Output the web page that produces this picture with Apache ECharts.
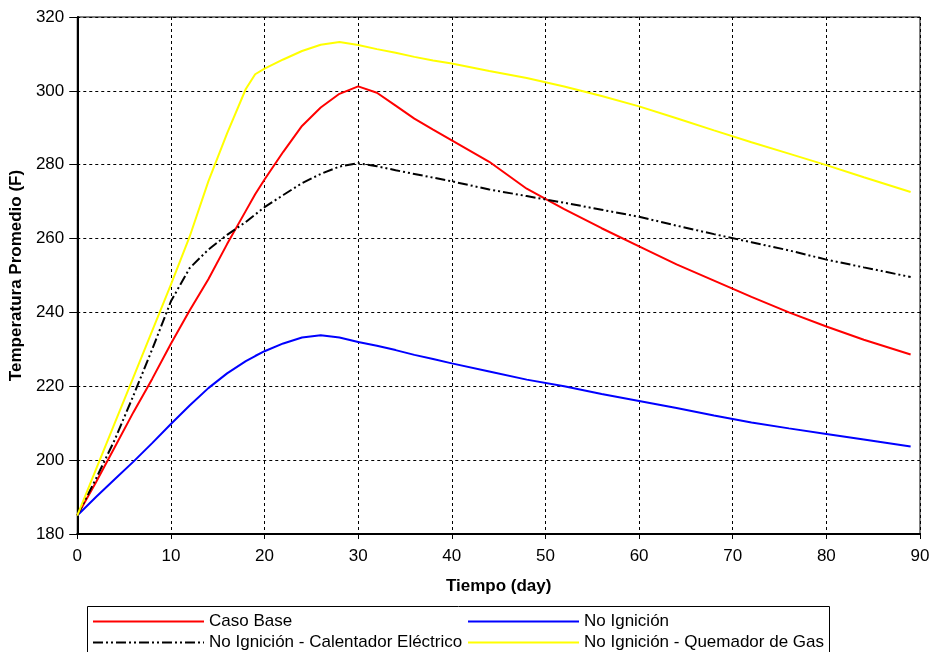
<!DOCTYPE html>
<html>
<head>
<meta charset="utf-8">
<script src="https://cdn.jsdelivr.net/npm/echarts@6/dist/echarts.min.js"></script>
<style>
  html, body { margin: 0; padding: 0; background: #fff; }
  #chart { width: 933px; height: 652px; }
</style>
</head>
<body>
<div id="chart"></div>
<script>
// Time in days
const days = [0, 2, 4, 6, 8, 10, 12, 14, 16, 18, 19, 20, 22, 24, 26, 28, 30, 32, 34, 36, 38, 40, 44, 48, 52, 56, 60, 64, 68, 72, 76, 80, 84, 89];

// Average temperature (F) for each case
const casoBase = [185, 194, 203.5, 213, 222, 231.5, 240.5, 249, 258.5, 267.5, 272, 276, 283.5, 290.5, 295.5, 299.2, 301.2, 299.5, 296, 292.5, 289.5, 286.6, 280.8, 273.5, 268, 262.8, 257.9, 253, 248.6, 244.2, 240, 236.2, 232.6, 228.6];
const noIgnicion = [185, 190, 194.8, 199.6, 204.6, 209.8, 214.8, 219.5, 223.5, 226.8, 228.2, 229.5, 231.6, 233.2, 233.8, 233.2, 232, 231, 229.8, 228.5, 227.4, 226.2, 224, 221.8, 220, 217.9, 216, 214.1, 212.1, 210.2, 208.6, 207.1, 205.6, 203.7];
const calentador = [185, 195, 205.5, 217.5, 230, 243, 252, 257, 261, 264.5, 266.5, 268.5, 271.8, 275, 277.5, 279.5, 280.4, 279.6, 278.5, 277.5, 276.5, 275.5, 273.3, 271.5, 269.7, 267.8, 265.9, 263.5, 261.2, 259, 256.8, 254.3, 252.2, 249.6];
const quemador = [185, 197.5, 210, 222.5, 235, 247.5, 260.5, 275.5, 288.5, 300.5, 304.5, 306, 308.5, 310.8, 312.5, 313.2, 312.4, 311.3, 310.3, 309.2, 308.2, 307.4, 305.4, 303.5, 301.2, 298.6, 295.8, 292.6, 289.3, 286.1, 283, 279.9, 276.6, 272.6];

const seriesNames = ['Caso Base', 'No Ignición', 'No Ignición - Calentador Eléctrico', 'No Ignición - Quemador de Gas'];

const FONT = "Arial, 'Liberation Sans', sans-serif";

function pairs(vals) {
  return days.map((d, i) => [d, vals[i]]);
}

function lineSeries(name, vals, color, type) {
  return {
    name: name,
    type: 'line',
    data: pairs(vals),
    symbol: 'none',
    showSymbol: false,
    smooth: false,
    lineStyle: { color: color, width: 2, type: type || 'solid' },
    itemStyle: { color: color },
    emphasis: { disabled: true }
  };
}

// One legend entry per box cell so the two columns line up
function legendAt(name, left, top) {
  return {
    data: [name],
    left: left,
    top: top,
    itemWidth: 111,
    itemHeight: 14,
    padding: 0,
    selectedMode: false,
    itemStyle: { opacity: 0, borderWidth: 0 },
    textStyle: { fontFamily: FONT, fontSize: 17, color: '#000' }
  };
}

const chart = echarts.init(document.getElementById('chart'), null, { renderer: 'canvas' });

chart.setOption({
  animation: false,
  backgroundColor: '#fff',
  grid: {
    left: 77, right: 13, top: 17, bottom: 118,
    show: true, borderColor: '#000', borderWidth: 1, backgroundColor: 'transparent'
  },
  xAxis: {
    type: 'value',
    min: 0, max: 90, interval: 10,
    name: 'Tiempo (day)',
    nameLocation: 'middle',
    nameGap: 44,
    nameTextStyle: { fontFamily: FONT, fontSize: 17, fontWeight: 'bold', color: '#000' },
    axisLine: { show: true, lineStyle: { color: '#000', width: 2 } },
    axisTick: { show: true, length: 5, lineStyle: { color: '#000', width: 1 } },
    axisLabel: { fontFamily: FONT, fontSize: 17, color: '#000', margin: 14 },
    splitLine: { show: true, lineStyle: { color: '#000', width: 1, type: [3, 3] } }
  },
  yAxis: {
    type: 'value',
    min: 180, max: 320, interval: 20,
    name: 'Temperatura Promedio (F)',
    nameLocation: 'middle',
    nameGap: 45,
    nameTextStyle: { fontFamily: FONT, fontSize: 17, fontWeight: 'bold', color: '#000' },
    axisLine: { show: true, lineStyle: { color: '#000', width: 2 } },
    axisTick: { show: true, length: 8, lineStyle: { color: '#000', width: 1 } },
    axisLabel: { fontFamily: FONT, fontSize: 17, color: '#000', margin: 13 },
    splitLine: { show: true, lineStyle: { color: '#000', width: 1, type: [3, 3] } }
  },
  legend: [
    legendAt(seriesNames[0], 92, 613),
    legendAt(seriesNames[1], 467, 613),
    legendAt(seriesNames[2], 92, 634),
    legendAt(seriesNames[3], 467, 634)
  ],
  graphic: [{
    type: 'rect',
    shape: { x: 87.5, y: 606.5, width: 742, height: 60 },
    style: { fill: 'none', stroke: '#000', lineWidth: 1 },
    silent: true
  }],
  series: [
    lineSeries(seriesNames[0], casoBase, '#ff0000'),
    lineSeries(seriesNames[1], noIgnicion, '#0000ff'),
    lineSeries(seriesNames[2], calentador, '#000000', [10, 3, 2, 3, 2, 3]),
    lineSeries(seriesNames[3], quemador, '#ffff00')
  ]
});
</script>
</body>
</html>
